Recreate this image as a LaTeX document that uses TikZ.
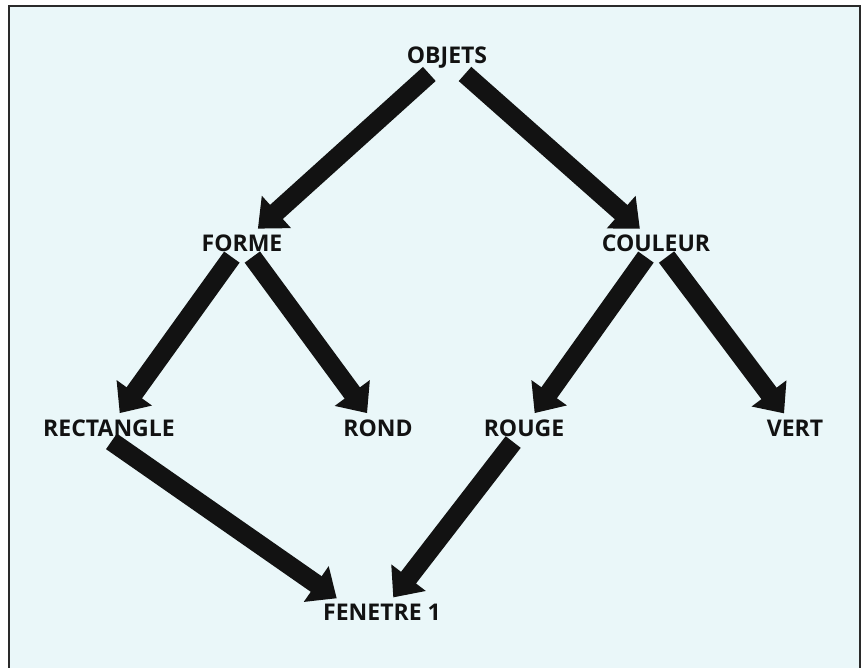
\documentclass[tikz,border=0pt]{standalone}
\usepackage{fontspec}
\setmainfont{Open Sans}
\usetikzlibrary{arrows.meta, positioning}
\definecolor{paper}{RGB}{234,247,249}
\definecolor{ink}{RGB}{18,18,18}

\begin{document}
\begin{tikzpicture}[
  x=1pt, y=-1pt,
  node distance=185pt and 205pt, on grid,
  lbl/.style={inner sep=3pt, text=ink, font=\bfseries\fontsize{23}{26}\selectfont},
  arr/.style={-{Triangle[width=42pt, length=25pt]}, line width=19pt, color=ink,
              shorten <=3pt, shorten >=4pt}
]
  \useasboundingbox (0,0) rectangle (865,667);
  \fill[white] (0,0) rectangle (865,667);
  \draw[line width=2.6pt, draw=ink!90, fill=paper] (9,6) rectangle (860,690);

  \node[lbl] (objets) at (447,58) {OBJETS};
  \node[lbl, below left=of objets] (forme) {FORME};
  \node[lbl, below right=185pt and 209pt of objets] (couleur) {COULEUR};
  \node[lbl, below left=185pt and 133pt of forme] (rectangle) {RECTANGLE};
  \node[lbl, below right=185pt and 136pt of forme] (rond) {ROND};
  \node[lbl, below left=185pt and 132pt of couleur] (rouge) {ROUGE};
  \node[lbl, below right=185pt and 139pt of couleur] (vert) {VERT};
  \node[lbl, below right=184pt and 273pt of rectangle] (fenetre) {FENETRE 1};

  \draw[arr] (objets) -- (forme);
  \draw[arr] (objets) -- (couleur);
  \draw[arr] (forme) -- (rectangle);
  \draw[arr] (forme) -- (rond);
  \draw[arr] (couleur) -- (rouge);
  \draw[arr] (couleur) -- (vert);
  \draw[arr] (rectangle.south) -- ([xshift=20pt]fenetre.north west);
  \draw[arr] (rouge) -- (fenetre);
\end{tikzpicture}
\end{document}
